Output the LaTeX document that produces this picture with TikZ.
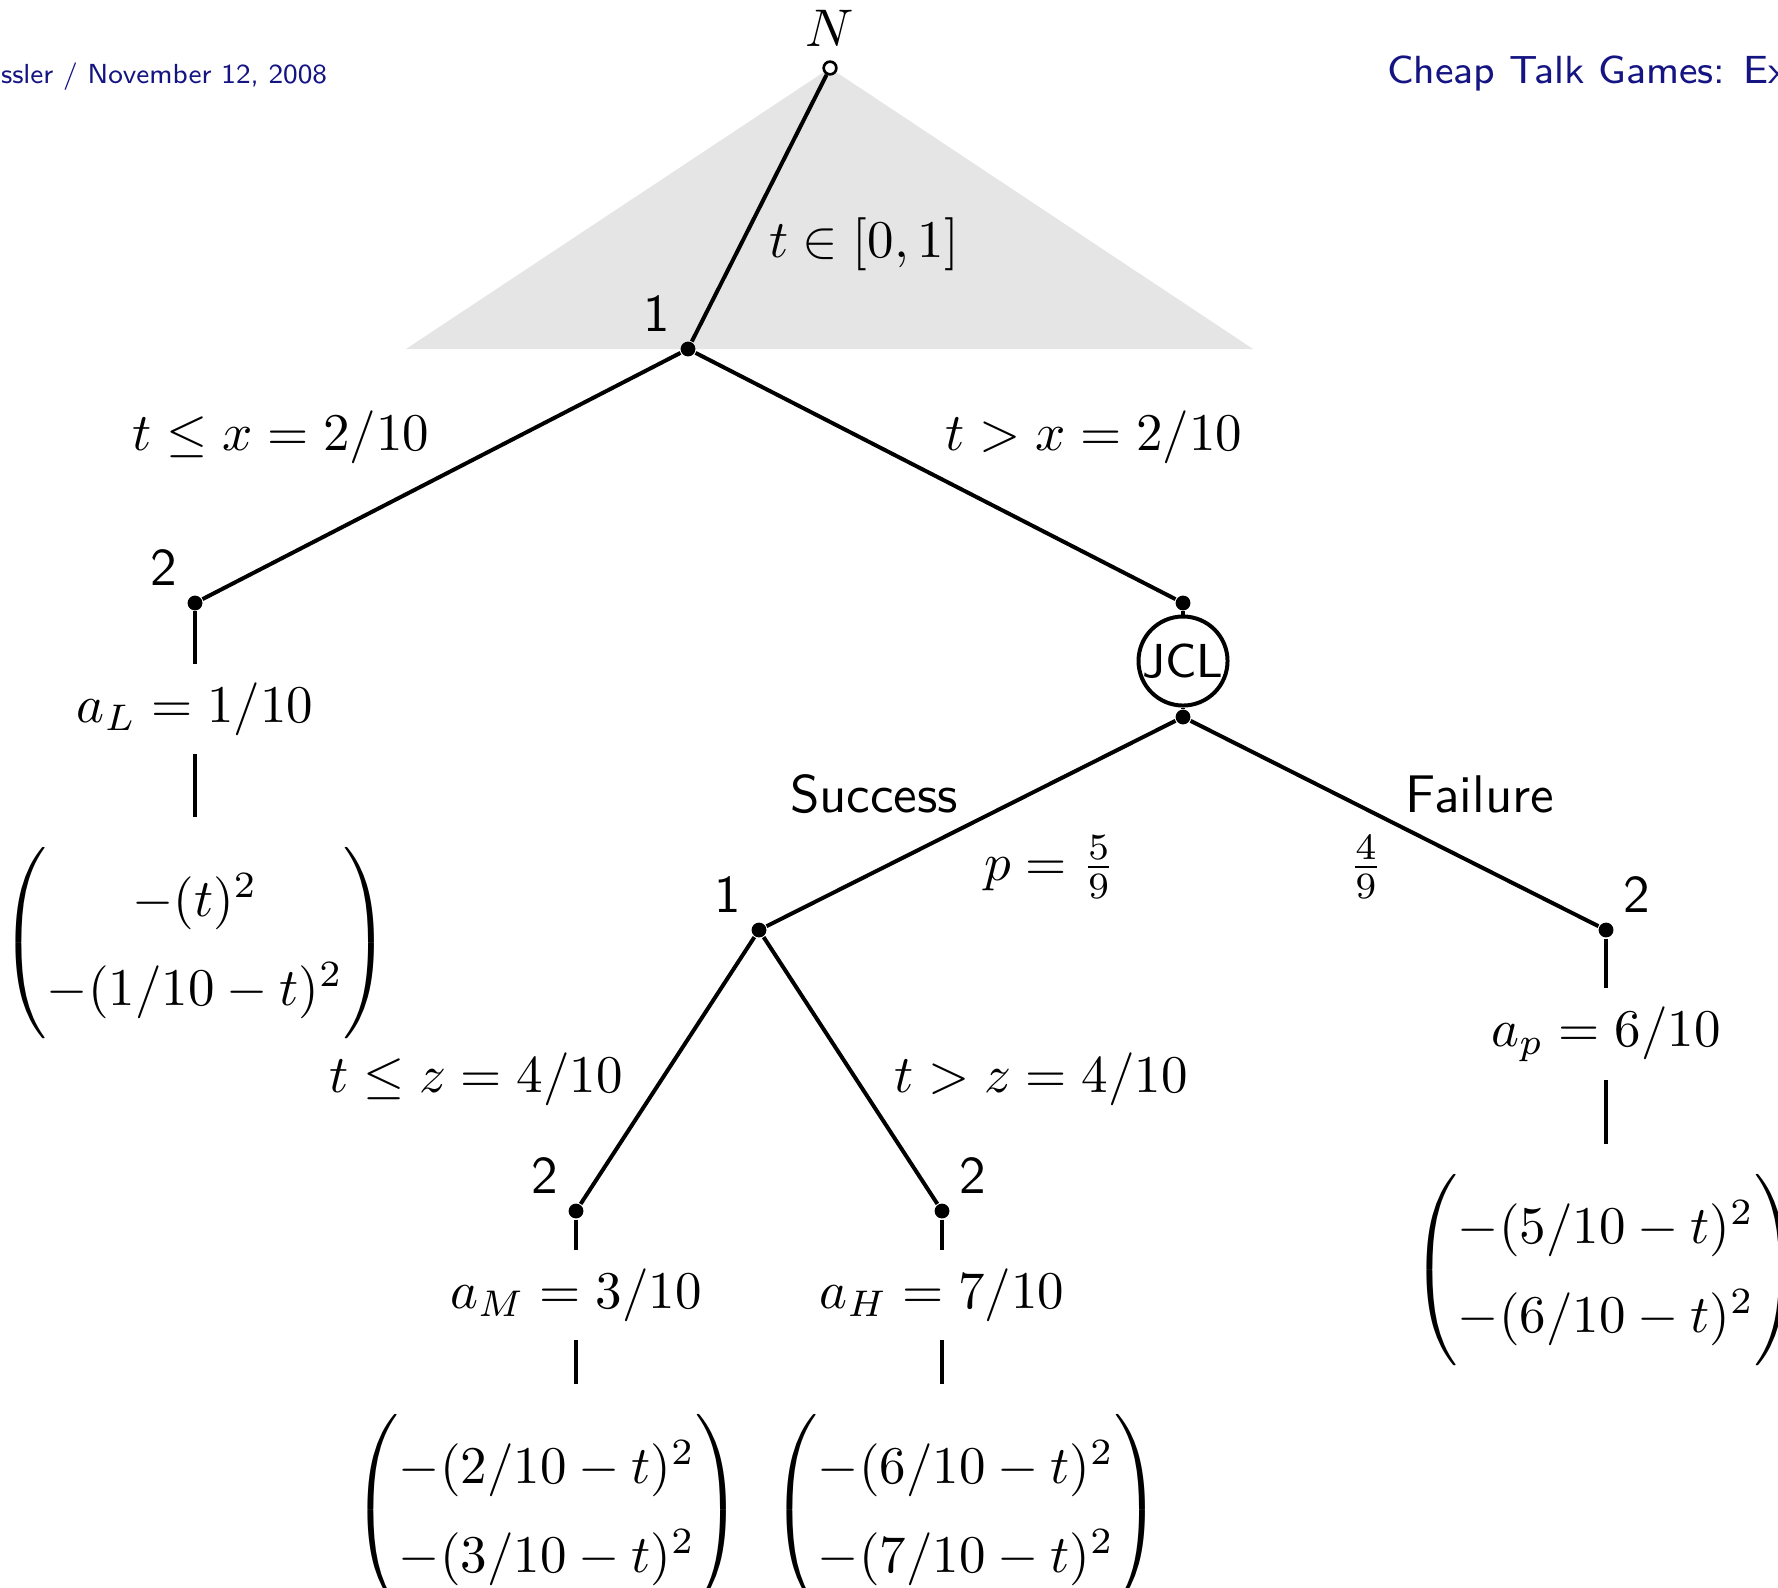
\documentclass[tikz,border=0pt]{standalone}
\usepackage{amsmath}

\definecolor{headblue}{RGB}{20,20,130}
\renewcommand{\arraystretch}{1.4}

\tikzset{
  move/.style={line width=0.75pt},
  dec/.style={circle, fill=black, inner sep=0pt, minimum size=2.8pt},
  nature/.style={circle, draw, fill=white, line width=0.5pt, inner sep=0pt, minimum size=2.4pt},
  chance/.style={circle, draw, line width=0.75pt, inner sep=0pt, minimum size=16.8pt, font=\sffamily\small},
  player/.style={font=\sffamily, inner sep=2pt},
  payoff/.style={inner sep=5.5pt},
}

\begin{document}
\begin{tikzpicture}[x=0.1887pt, y=0.1887pt]
    \useasboundingbox (0,0) rectangle (1778,1587);

    % ---- Slide header (cut by the frame) ----
    \node[anchor=base west, inner sep=0pt, text=headblue, font={\sffamily\fontsize{5.2}{6}\selectfont}] (date) at (0,1504) {ssler / November 12, 2008};
    \node[anchor=base west, inner sep=0pt, text=headblue, font={\sffamily\fontsize{7.4}{8}\selectfont}] (title) at (1386,1504) {Cheap Talk Games: Ex};

    % ---- Information set of nature (grey triangle) ----
    \coordinate (root) at (830,1519);
    \coordinate (infl) at (406,1238);
    \coordinate (infr) at (1253,1238);
    \fill[black!10] (root) -- (infl) -- (infr) -- cycle;

    % ---- Decision nodes ----
    \node[nature, label={[label distance=-1pt]above:$N$}] (nat) at (root) {};
    \node[dec, label={[player]135:1}] (snd) at (688,1238) {};
    \node[dec, label={[player]135:2}] (rcvL) at (195,984) {};
    \node[dec] (jin) at (1183,984) {};
    \node[chance] (jcl) at (1183,926) {JCL};
    \node[dec] (jout) at (1183,870) {};
    \node[dec, label={[player]135:1}] (snd2) at (759,657) {};
    \node[dec, label={[player]45:2}] (rcvP) at (1606,657) {};
    \node[dec, label={[player]135:2}] (rcvM) at (576,376) {};
    \node[dec, label={[player]45:2}] (rcvH) at (942,376) {};

    % ---- Moves ----
    \draw[move] (nat) -- (snd);
    \draw[move] (snd) -- (rcvL);
    \draw[move] (snd) -- (jin);
    \draw[move] (jin) -- (jcl);
    \draw[move] (jcl) -- (jout);
    \draw[move] (jout) -- (snd2);
    \draw[move] (jout) -- (rcvP);
    \draw[move] (snd2) -- (rcvM);
    \draw[move] (snd2) -- (rcvH);

    % ---- Move labels ----
    \node (tnat) at (864,1343) {$t \in [0,1]$};
    \node (tlow) at (281,1150) {$t \le x = 2/10$};
    \node (thigh) at (1094,1150) {$t > x = 2/10$};
    \node[font=\sffamily] (succ) at (874,793) {Success};
    \node[font=\sffamily] (fail) at (1480,793) {Failure};
    \node (psucc) at (1050,720) {$p = \frac{5}{9}$};
    \node (pfail) at (1366,720) {$\frac{4}{9}$};
    \node (zlow) at (476,508) {$t \le z = 4/10$};
    \node (zhigh) at (1041,508) {$t > z = 4/10$};

    % ---- Actions of player 2 ----
    \node (aL) at (195,878) {$a_L = 1/10$};
    \node (ap) at (1606,553) {$a_p = 6/10$};
    \node (aM) at (576,292) {$a_M = 3/10$};
    \node (aH) at (942,292) {$a_H = 7/10$};

    % ---- Payoffs ----
    \node[payoff] (uL) at (195,644) {$\begin{pmatrix} -(t)^2 \\ -(1/10 - t)^2 \end{pmatrix}$};
    \node[payoff] (uP) at (1606,317) {$\begin{pmatrix} -(5/10 - t)^2 \\ -(6/10 - t)^2 \end{pmatrix}$};
    \node[payoff] (uM) at (547,77) {$\begin{pmatrix} -(2/10 - t)^2 \\ -(3/10 - t)^2 \end{pmatrix}$};
    \node[payoff] (uH) at (966,77) {$\begin{pmatrix} -(6/10 - t)^2 \\ -(7/10 - t)^2 \end{pmatrix}$};

    \draw[move] (rcvL) -- (aL);
    \draw[move] (aL) -- (uL);
    \draw[move] (rcvP) -- (ap);
    \draw[move] (ap) -- (uP);
    \draw[move] (rcvM) -- (aM);
    \draw[move] (aM.south) -- (aM.south |- uM.north);
    \draw[move] (rcvH) -- (aH);
    \draw[move] (aH.south) -- (aH.south |- uH.north);

\end{tikzpicture}
\end{document}
